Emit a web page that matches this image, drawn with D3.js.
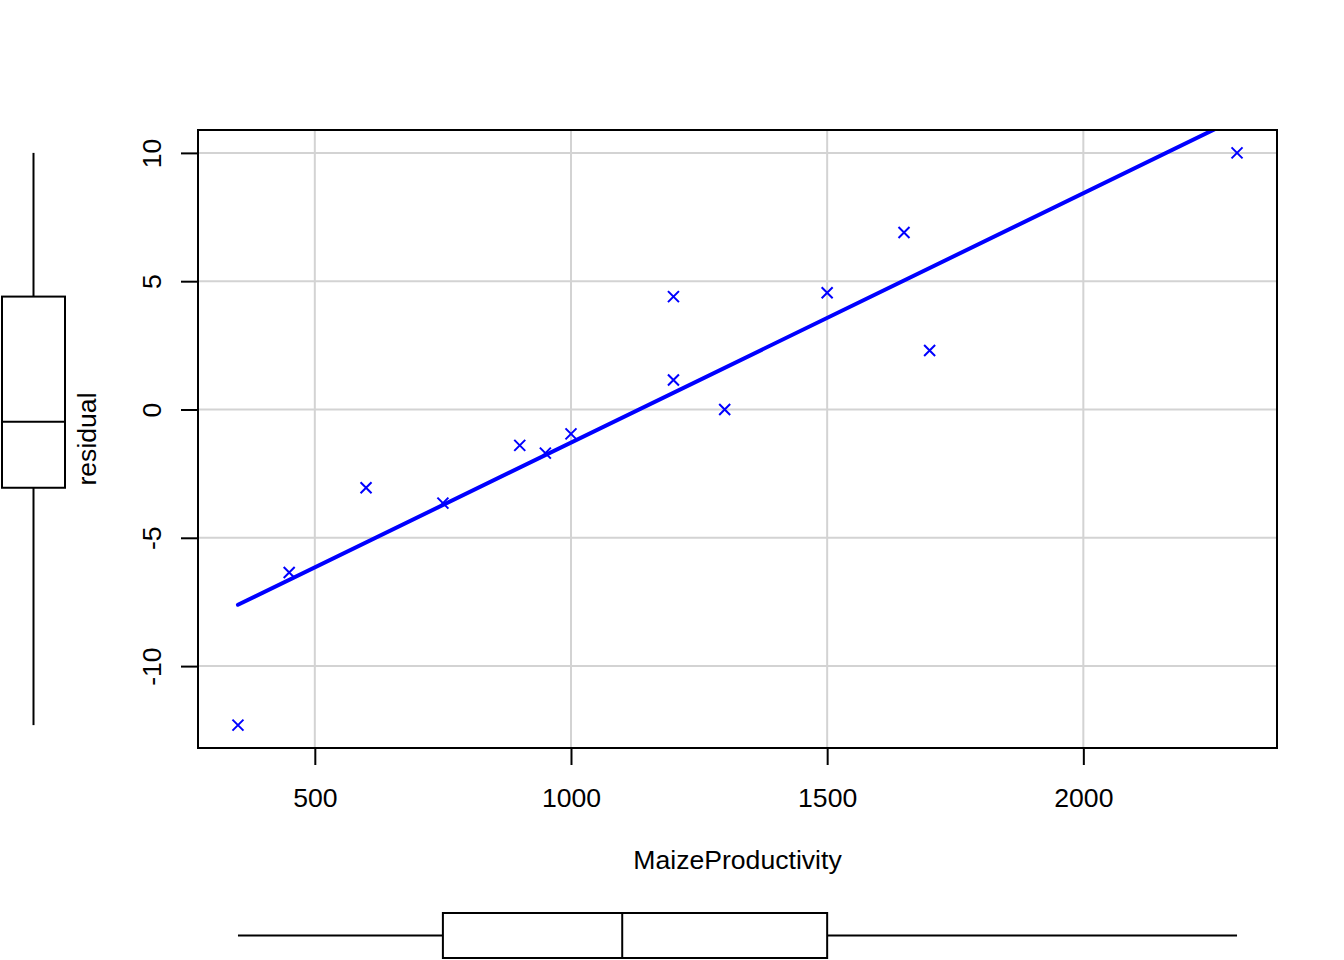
<!DOCTYPE html>
<html>
<head>
<meta charset="utf-8">
<script src="https://cdn.jsdelivr.net/npm/d3@7"></script>
<style>
  html, body { margin: 0; padding: 0; background: #fff; }
  svg { display: block; }
  text { font-family: "Liberation Sans", Arial, Helvetica, sans-serif; }
</style>
</head>
<body>
<svg id="chart" width="1344" height="960"></svg>
<script>
// ---- data ----
const maizeProductivity = [350, 450, 600, 750, 900, 950, 1000, 1200, 1200, 1300, 1500, 1650, 1700, 2300];
const residual = [-12.3, -6.35, -3.05, -3.65, -1.4, -1.7, -0.95, 4.4, 1.15, 0, 4.55, 6.9, 2.3, 10];
const xTicks = [500, 1000, 1500, 2000];
const yTicks = [-10, -5, 0, 5, 10];
const xLabel = "MaizeProductivity";
const yLabel = "residual";

// ---- layout ----
const W = 1344, H = 960;
const plot = { left: 198, right: 1277, top: 130, bottom: 748 };
const fontSize = 26.6;
const lineCol = "#000";
const gridCol = "#d3d3d3";
const pointCol = "#0000ff";

const svg = d3.select("#chart");

// R-style 4% range extension
function rExtent(arr) {
  const [a, b] = d3.extent(arr);
  const e = (b - a) * 0.04;
  return [a - e, b + e];
}

const x = d3.scaleLinear().domain(rExtent(maizeProductivity)).range([plot.left, plot.right]);
const y = d3.scaleLinear().domain(rExtent(residual)).range([plot.bottom, plot.top]);

// Tukey five-number summary (as R's boxplot uses)
function fivenum(arr) {
  const s = arr.slice().sort((a, b) => a - b);
  const n = s.length;
  const n4 = Math.floor((n + 3) / 2) / 2;
  const d = [1, n4, (n + 1) / 2, n + 1 - n4, n];
  const v = d.map(k => 0.5 * (s[Math.floor(k) - 1] + s[Math.ceil(k) - 1]));
  // whiskers: within 1.5 IQR
  const iqr = v[3] - v[1];
  const lo = d3.min(s.filter(t => t >= v[1] - 1.5 * iqr));
  const hi = d3.max(s.filter(t => t <= v[3] + 1.5 * iqr));
  return { min: lo, q1: v[1], med: v[2], q3: v[3], max: hi };
}

// clip path for plot region
svg.append("defs").append("clipPath").attr("id", "plotclip")
  .append("rect")
  .attr("x", plot.left).attr("y", plot.top)
  .attr("width", plot.right - plot.left).attr("height", plot.bottom - plot.top);

// ---- grid ----
const grid = svg.append("g");
grid.selectAll("line.vx").data(xTicks).join("line")
  .attr("x1", d => x(d)).attr("x2", d => x(d))
  .attr("y1", plot.top).attr("y2", plot.bottom)
  .attr("stroke", gridCol).attr("stroke-width", 2);
grid.selectAll("line.hy").data(yTicks).join("line")
  .attr("class", "hy")
  .attr("x1", plot.left).attr("x2", plot.right)
  .attr("y1", d => y(d)).attr("y2", d => y(d))
  .attr("stroke", gridCol).attr("stroke-width", 2);

// ---- regression line (least squares fit of the points) ----
const mx = d3.mean(maizeProductivity), my = d3.mean(residual);
let sxy = 0, sxx = 0;
maizeProductivity.forEach((v, i) => { sxy += (v - mx) * (residual[i] - my); sxx += (v - mx) * (v - mx); });
const slope = sxy / sxx, intercept = my - slope * mx;
const [xmin, xmax] = d3.extent(maizeProductivity);
svg.append("g").attr("clip-path", "url(#plotclip)")
  .append("line")
  .attr("x1", x(xmin)).attr("y1", y(intercept + slope * xmin))
  .attr("x2", x(xmax)).attr("y2", y(intercept + slope * xmax))
  .attr("stroke", pointCol).attr("stroke-width", 4).attr("stroke-linecap", "round");

// ---- points (pch = 4, 'x') ----
const r = 5.5;
const pts = svg.append("g").attr("clip-path", "url(#plotclip)");
const pd = maizeProductivity.map((v, i) => [v, residual[i]]);
pts.selectAll("path").data(pd).join("path")
  .attr("d", d => {
    const cx = x(d[0]), cy = y(d[1]);
    return `M${cx - r},${cy - r}L${cx + r},${cy + r}M${cx - r},${cy + r}L${cx + r},${cy - r}`;
  })
  .attr("stroke", pointCol).attr("stroke-width", 2).attr("fill", "none");

// ---- frame ----
svg.append("rect")
  .attr("x", plot.left).attr("y", plot.top)
  .attr("width", plot.right - plot.left).attr("height", plot.bottom - plot.top)
  .attr("fill", "none").attr("stroke", lineCol).attr("stroke-width", 2);

// ---- axes ----
const fmt = d => String(d);
const xAxis = svg.append("g").attr("transform", `translate(0,${plot.bottom})`)
  .call(d3.axisBottom(x).tickValues(xTicks).tickFormat(fmt).tickSize(17).tickSizeOuter(0));
xAxis.select(".domain").remove();
xAxis.selectAll(".tick line").attr("stroke", lineCol).attr("stroke-width", 2);
xAxis.selectAll(".tick text")
  .attr("y", 59).attr("dy", null)
  .attr("fill", "#000")
  .style("font-size", fontSize + "px")
  .style("font-family", "'Liberation Sans', Arial, Helvetica, sans-serif");

const yAxis = svg.append("g").attr("transform", `translate(${plot.left},0)`)
  .call(d3.axisLeft(y).tickValues(yTicks).tickFormat(fmt).tickSize(17).tickSizeOuter(0));
yAxis.select(".domain").remove();
yAxis.selectAll(".tick line").attr("stroke", lineCol).attr("stroke-width", 2);
yAxis.selectAll(".tick text")
  .attr("x", null).attr("dy", null)
  .attr("transform", "translate(-37,0) rotate(-90)")
  .attr("text-anchor", "middle")
  .attr("fill", "#000")
  .style("font-size", fontSize + "px")
  .style("font-family", "'Liberation Sans', Arial, Helvetica, sans-serif");

// ---- axis titles ----
svg.append("text")
  .attr("x", (plot.left + plot.right) / 2).attr("y", 869)
  .attr("text-anchor", "middle")
  .style("font-size", fontSize + "px")
  .text(xLabel);
svg.append("text")
  .attr("transform", `translate(96,${(plot.top + plot.bottom) / 2}) rotate(-90)`)
  .attr("text-anchor", "middle")
  .style("font-size", fontSize + "px")
  .text(yLabel);

// ---- marginal boxplots ----
// left: residual
const by = fivenum(residual);
const lb = { x0: 2, x1: 65 };
const lc = (lb.x0 + lb.x1) / 2;
const gL = svg.append("g").attr("stroke", lineCol).attr("stroke-width", 2).attr("fill", "none");
gL.append("line").attr("x1", lc).attr("x2", lc).attr("y1", y(by.max)).attr("y2", y(by.q3));
gL.append("line").attr("x1", lc).attr("x2", lc).attr("y1", y(by.q1)).attr("y2", y(by.min));
gL.append("rect").attr("x", lb.x0).attr("width", lb.x1 - lb.x0)
  .attr("y", y(by.q3)).attr("height", y(by.q1) - y(by.q3));
gL.append("line").attr("x1", lb.x0).attr("x2", lb.x1).attr("y1", y(by.med)).attr("y2", y(by.med));

// bottom: MaizeProductivity
const bx = fivenum(maizeProductivity);
const bb = { y0: 913, y1: 958 };
const bc = (bb.y0 + bb.y1) / 2;
const gB = svg.append("g").attr("stroke", lineCol).attr("stroke-width", 2).attr("fill", "none");
gB.append("line").attr("y1", bc).attr("y2", bc).attr("x1", x(bx.min)).attr("x2", x(bx.q1));
gB.append("line").attr("y1", bc).attr("y2", bc).attr("x1", x(bx.q3)).attr("x2", x(bx.max));
gB.append("rect").attr("y", bb.y0).attr("height", bb.y1 - bb.y0)
  .attr("x", x(bx.q1)).attr("width", x(bx.q3) - x(bx.q1));
gB.append("line").attr("y1", bb.y0).attr("y2", bb.y1).attr("x1", x(bx.med)).attr("x2", x(bx.med));
</script>
</body>
</html>
